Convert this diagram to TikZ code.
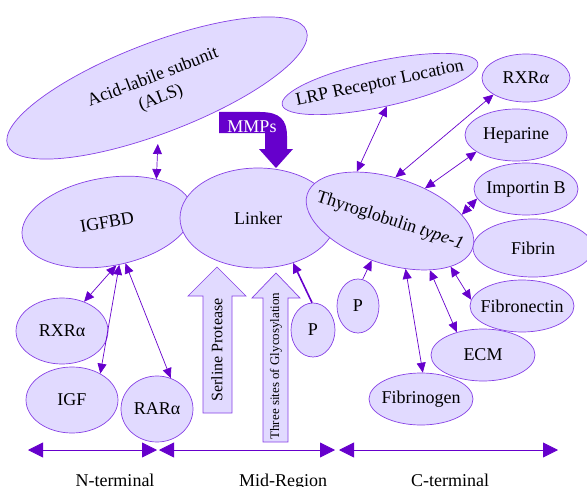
\documentclass[tikz,border=0pt]{standalone}
\usepackage{fontspec}
\setmainfont{Liberation Serif}
\newfontfamily\tms{Liberation Serif}
\usetikzlibrary{shapes.geometric,arrows.meta}
\definecolor{lav}{RGB}{225,218,255}
\definecolor{rim}{RGB}{135,65,230}
\definecolor{ink}{RGB}{102,0,204}
\newcommand{\ctext}[1]{\makebox[0pt]{#1}}

\begin{document}
\begin{tikzpicture}[x=1pt,y=-1pt,
        blob/.style={ellipse, draw=rim, fill=lav, inner sep=0pt, line width=0.7pt, font=\tms\fontsize{18}{22}\selectfont},
        dbl/.style={ink, line width=0.7pt, {Triangle[length=10pt,width=9pt]}-{Triangle[length=10pt,width=9pt]}},
        sgl/.style={ink, line width=0.7pt, -{Triangle[length=10pt,width=9pt]}},
        band/.style={ink, line width=0.8pt, {Triangle[length=15pt,width=15pt]}-{Triangle[length=15pt,width=15pt]}},
        block/.style={draw=rim, fill=lav, line width=0.7pt},
        lbl/.style={font=\tms\fontsize{18}{22}\selectfont, anchor=base}]

            \useasboundingbox (0,0) rectangle (587,487);

            % left part
            \node[blob, minimum width=320pt, minimum height=90pt, rotate=21] (als) at (157,88) {\ctext{\begin{tabular}{@{}c@{}}Acid-labile subunit\\(ALS)\end{tabular}}};
            \node[blob, minimum width=172pt, minimum height=88pt, rotate=10] (igfbd) at (107,222) {\ctext{IGFBD}};
            \node[blob, minimum width=92pt, minimum height=66pt] (rxl) at (62,331) {\ctext{RXRα}};
            \node[blob, minimum width=92pt, minimum height=66pt] (igf) at (72,400) {\ctext{IGF}};
            \node[blob, minimum width=72pt, minimum height=66pt] (rar) at (157,409) {\ctext{RARα}};

            % middle
            \node[blob, minimum width=156pt, minimum height=100pt] (lnk) at (258,218) {\ctext{Linker}};
            \node[blob, minimum width=174pt, minimum height=86pt, rotate=-18] (thy) at (390,221) {\ctext{Thyroglobulin \textit{type-1}}};
            \node[blob, minimum width=42pt, minimum height=54pt] (pa) at (358,306) {\ctext{P}};
            \node[blob, minimum width=44pt, minimum height=54pt] (pb) at (313,330) {\ctext{P}};

            \fill[ink] (219,112) -- (260,112) .. controls (280,112) and (287,120) .. (287,136) -- (287,149) -- (293,149) -- (276,168) -- (259,149) -- (265,149) -- (265,133) -- (219,133) -- cycle;
            \node[font=\tms\fontsize{18}{20}\selectfont, text=white, anchor=base] (mmp) at (252,132) {MMPs};

            \draw[block] (217,267) -- (246,296) -- (232,296) -- (232,413) -- (203,413) -- (203,296) -- (188,296) -- cycle;
            \node[rotate=90, font=\tms\fontsize{16}{19}\selectfont] (srp) at (217,350) {Serline Protease};
            \draw[block] (276,273) -- (300,298) -- (288,298) -- (288,442) -- (263,442) -- (263,298) -- (252,298) -- cycle;
            \node[rotate=90, font=\tms\fontsize{13}{15}\selectfont] (gly) at (276,366) {Three sites of Glycosylation};

            % right part
            \node[blob, minimum width=200pt, minimum height=46pt, rotate=12] (lrp) at (380,84) {\ctext{LRP Receptor Location}};
            \node[blob, minimum width=88pt, minimum height=48pt] (rxr) at (526,78) {\ctext{RXR\textit{α}}};
            \node[blob, minimum width=102pt, minimum height=52pt] (hep) at (516,135) {\ctext{Heparine}};
            \node[blob, minimum width=104pt, minimum height=52pt] (imp) at (526,189) {\ctext{Importin B}};
            \node[blob, minimum width=120pt, minimum height=58pt] (fbn) at (533,248) {\ctext{Fibrin}};
            \node[blob, minimum width=104pt, minimum height=52pt] (fnc) at (522,306) {\ctext{Fibronectin}};
            \node[blob, minimum width=104pt, minimum height=52pt] (ecm) at (483,355) {\ctext{ECM}};
            \node[blob, minimum width=104pt, minimum height=52pt] (fbg) at (421,399) {\ctext{Fibrinogen}};

            % links
            \draw[dbl] ([yshift=-8pt]als.-110) -- (igfbd.31);
            \draw[dbl] (igfbd.-88) -- (rxl.53);
            \draw[dbl] (igfbd.-84) -- (igf.43);
            \draw[dbl] (igfbd.-76) -- (rar.66);
            \draw[dbl] (lrp.-85) -- (thy.142);
            \draw[dbl] (rxr.207) -- (thy.101);
            \draw[dbl] (hep.203) -- (thy.61);
            \draw[dbl] (imp.191) -- (thy.23);
            \draw[dbl] (thy.-19) -- (fnc.173);
            \draw[dbl] (thy.-33) -- (ecm.139);
            \draw[dbl] (thy.-54) -- (fbg.86);
            \draw[sgl] (pa.80) -- (thy.-97);
            \draw[sgl, line width=1.6pt] (pb.92) -- (lnk.-52);

            % regions
            \coordinate (n1) at (28,450);
            \coordinate (n2) at (157,450);
            \coordinate (m1) at (159,450);
            \coordinate (m2) at (335,450);
            \coordinate (c1) at (339,450);
            \coordinate (c2) at (558,450);
            \draw[band] (n1) -- (n2);
            \draw[band] (m1) -- (m2);
            \draw[band] (c1) -- (c2);
            \node[lbl] (nt) at (115,486) {N-terminal};
            \node[lbl] (mr) at (283,486) {Mid-Region};
            \node[lbl] (ct) at (450,486) {C-terminal};

        \end{tikzpicture}
\end{document}
